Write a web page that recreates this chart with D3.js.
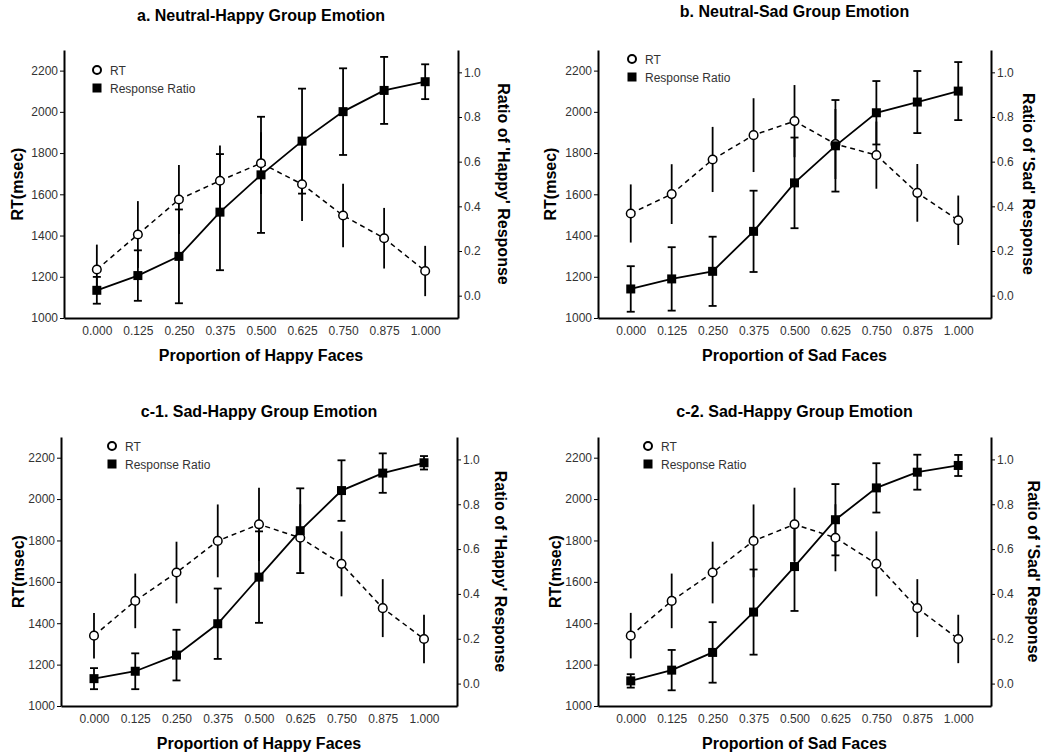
<!DOCTYPE html>
<html>
<head>
<meta charset="utf-8">
<script src="https://cdn.jsdelivr.net/npm/d3@7"></script>
<style>
  body { margin: 0; background: #fff; }
  svg { font-family: "Liberation Sans", Arial, sans-serif; }
</style>
</head>
<body>
<div id="chart"></div>
<script>
// proportions of emotional faces in the group (x axis)
var proportions = [0, 0.125, 0.25, 0.375, 0.5, 0.625, 0.75, 0.875, 1];
var rtTicks = [1000, 1200, 1400, 1600, 1800, 2000, 2200];
var ratioTicks = [0, 0.2, 0.4, 0.6, 0.8, 1.0];

// a. Neutral-Happy
var rtA = [1235, 1405, 1575, 1666, 1751, 1649, 1497, 1387, 1228];
var rtErrA = [121, 162, 167, 171, 150, 178, 154, 147, 122];
var ratioA = [0.024, 0.090, 0.176, 0.374, 0.541, 0.692, 0.824, 0.919, 0.958];
var ratioErrA = [0.06, 0.113, 0.21, 0.26, 0.26, 0.235, 0.194, 0.15, 0.078];

// b. Neutral-Sad
var rtB = [1507, 1601, 1769, 1887, 1955, 1844, 1790, 1607, 1474];
var rtErrB = [141, 145, 158, 179, 175, 170, 163, 140, 120];
var ratioB = [0.030, 0.075, 0.109, 0.288, 0.505, 0.671, 0.819, 0.867, 0.916];
var ratioErrB = [0.102, 0.142, 0.155, 0.182, 0.203, 0.205, 0.142, 0.139, 0.13];

// c. Sad-Happy (same RT in c-1 and c-2)
var rtC = [1340, 1508, 1645, 1798, 1878, 1813, 1687, 1473, 1324];
var rtErrC = [110, 132, 149, 176, 177, 162, 157, 140, 117];
var ratioC1 = [0.022, 0.055, 0.127, 0.267, 0.475, 0.682, 0.861, 0.939, 0.985];
var ratioErrC1 = [0.047, 0.08, 0.113, 0.157, 0.204, 0.189, 0.135, 0.088, 0.03];
var ratioC2 = [0.012, 0.060, 0.139, 0.319, 0.522, 0.731, 0.873, 0.943, 0.973];
var ratioErrC2 = [0.03, 0.09, 0.135, 0.19, 0.198, 0.159, 0.11, 0.078, 0.047];

var panels = [
  {title: "a. Neutral-Happy Group Emotion", xlab: "Proportion of Happy Faces", ylab2: "Ratio of 'Happy' Response",
   rt: rtA, rtErr: rtErrA, ratio: ratioA, ratioErr: ratioErrA,
   left: 64, right: 458, top: 50, bottom: 318, titleY: 21, yLabX: 17, y2LabX: 503, legX: 97, legY: 70},
  {title: "b. Neutral-Sad Group Emotion", xlab: "Proportion of Sad Faces", ylab2: "Ratio of 'Sad' Response",
   rt: rtB, rtErr: rtErrB, ratio: ratioB, ratioErr: ratioErrB,
   left: 598, right: 991, top: 50, bottom: 318, titleY: 17, yLabX: 550, y2LabX: 1028, legX: 632, legY: 59},
  {title: "c-1. Sad-Happy Group Emotion", xlab: "Proportion of Happy Faces", ylab2: "Ratio of 'Happy' Response",
   rt: rtC, rtErr: rtErrC, ratio: ratioC1, ratioErr: ratioErrC1,
   left: 61, right: 457, top: 437, bottom: 706, titleY: 417, yLabX: 18, y2LabX: 500, legX: 112, legY: 446},
  {title: "c-2. Sad-Happy Group Emotion", xlab: "Proportion of Sad Faces", ylab2: "Ratio of 'Sad' Response",
   rt: rtC, rtErr: rtErrC, ratio: ratioC2, ratioErr: ratioErrC2,
   left: 598, right: 991, top: 437, bottom: 706, titleY: 417, yLabX: 555, y2LabX: 1033, legX: 648, legY: 446}
];

var svg = d3.select("#chart").append("svg")
    .attr("width", 1045)
    .attr("height", 754);

panels.forEach(drawPanel);

function drawPanel(p) {
  var w = p.right - p.left, h = p.bottom - p.top;
  var g = svg.append("g").attr("transform", "translate(" + p.left + "," + p.top + ")");

  var x = d3.scaleLinear().domain([-0.1, 1.1]).range([0, w]);
  var yRT = d3.scaleLinear().domain([1000, 2300]).range([h, 0]);
  var yR = d3.scaleLinear().domain([-0.1, 1.1]).range([h, 0]);

  var data = proportions.map(function(d, i) {
    return {x: d, rt: p.rt[i], rtErr: p.rtErr[i], ratio: p.ratio[i], ratioErr: p.ratioErr[i]};
  });

  // axes
  var xAxis = g.append("g").attr("transform", "translate(0," + h + ")")
      .call(d3.axisBottom(x).tickValues(proportions).tickFormat(d3.format(".3f")).tickSize(0).tickPadding(8).tickSizeOuter(0));
  var yAxis = g.append("g")
      .call(d3.axisLeft(yRT).tickValues(rtTicks).tickFormat(d3.format("d")).tickSize(4).tickPadding(2).tickSizeOuter(0));
  var y2Axis = g.append("g").attr("transform", "translate(" + w + ",0)")
      .call(d3.axisRight(yR).tickValues(ratioTicks).tickFormat(d3.format(".1f")).tickSize(4).tickPadding(2).tickSizeOuter(0));

  [xAxis, yAxis, y2Axis].forEach(function(a) {
    a.select(".domain").attr("stroke", "#000").attr("stroke-width", 2);
    a.selectAll(".tick line").attr("stroke", "#000").attr("stroke-width", 1);
    a.selectAll(".tick text").attr("fill", "#333").style("font-size", "12px")
      .style("font-family", "'Liberation Sans', Arial, sans-serif");
  });

  // error bars for RT (no caps)
  g.selectAll(".rtErr").data(data).enter().append("line")
    .attr("x1", function(d) { return x(d.x); })
    .attr("x2", function(d) { return x(d.x); })
    .attr("y1", function(d) { return yRT(d.rt - d.rtErr); })
    .attr("y2", function(d) { return yRT(d.rt + d.rtErr); })
    .attr("stroke", "#000").attr("stroke-width", 1.8);

  // error bars for response ratio (with caps)
  var eb = g.selectAll(".rErr").data(data).enter().append("g");
  eb.append("line")
    .attr("x1", function(d) { return x(d.x); })
    .attr("x2", function(d) { return x(d.x); })
    .attr("y1", function(d) { return yR(d.ratio - d.ratioErr); })
    .attr("y2", function(d) { return yR(d.ratio + d.ratioErr); })
    .attr("stroke", "#000").attr("stroke-width", 1.8);
  [-1, 1].forEach(function(s) {
    eb.append("line")
      .attr("x1", function(d) { return x(d.x) - 4; })
      .attr("x2", function(d) { return x(d.x) + 4; })
      .attr("y1", function(d) { return yR(d.ratio + s * d.ratioErr); })
      .attr("y2", function(d) { return yR(d.ratio + s * d.ratioErr); })
      .attr("stroke", "#000").attr("stroke-width", 1.8);
  });

  // lines
  g.append("path").datum(data)
    .attr("fill", "none").attr("stroke", "#000").attr("stroke-width", 1.5)
    .attr("stroke-dasharray", "5,4")
    .attr("d", d3.line().x(function(d) { return x(d.x); }).y(function(d) { return yRT(d.rt); }));
  g.append("path").datum(data)
    .attr("fill", "none").attr("stroke", "#000").attr("stroke-width", 1.8)
    .attr("d", d3.line().x(function(d) { return x(d.x); }).y(function(d) { return yR(d.ratio); }));

  // markers
  g.selectAll(".rtPt").data(data).enter().append("circle")
    .attr("cx", function(d) { return x(d.x); })
    .attr("cy", function(d) { return yRT(d.rt); })
    .attr("r", 4.3)
    .attr("fill", "#fff").attr("stroke", "#000").attr("stroke-width", 1.5);
  g.selectAll(".rPt").data(data).enter().append("rect")
    .attr("x", function(d) { return x(d.x) - 4.5; })
    .attr("y", function(d) { return yR(d.ratio) - 4.5; })
    .attr("width", 9).attr("height", 9)
    .attr("fill", "#000");

  // titles and labels
  svg.append("text")
    .attr("x", (p.left + p.right) / 2).attr("y", p.titleY)
    .attr("text-anchor", "middle").style("font-weight", "bold").style("font-size", "16px")
    .text(p.title);
  svg.append("text")
    .attr("x", (p.left + p.right) / 2).attr("y", p.bottom + 43)
    .attr("text-anchor", "middle").style("font-weight", "bold").style("font-size", "16px")
    .text(p.xlab);
  svg.append("text")
    .attr("transform", "translate(" + p.yLabX + "," + (p.top + p.bottom) / 2 + ") rotate(-90)")
    .attr("text-anchor", "middle").attr("dominant-baseline", "central")
    .style("font-weight", "bold").style("font-size", "16px")
    .text("RT(msec)");
  svg.append("text")
    .attr("transform", "translate(" + p.y2LabX + "," + (p.top + p.bottom) / 2 + ") rotate(90)")
    .attr("text-anchor", "middle").attr("dominant-baseline", "central")
    .style("font-weight", "bold").style("font-size", "16px")
    .text(p.ylab2);

  // legend
  svg.append("circle").attr("cx", p.legX).attr("cy", p.legY).attr("r", 4)
    .attr("fill", "#fff").attr("stroke", "#000").attr("stroke-width", 2);
  svg.append("text").attr("x", p.legX + 13).attr("y", p.legY + 4.5)
    .style("font-size", "12px").attr("fill", "#333").text("RT");
  svg.append("rect").attr("x", p.legX - 4.5).attr("y", p.legY + 18 - 4.5)
    .attr("width", 9).attr("height", 9).attr("fill", "#000");
  svg.append("text").attr("x", p.legX + 13).attr("y", p.legY + 18 + 4.5)
    .style("font-size", "12px").attr("fill", "#333").text("Response Ratio");
}
</script>
</body>
</html>
